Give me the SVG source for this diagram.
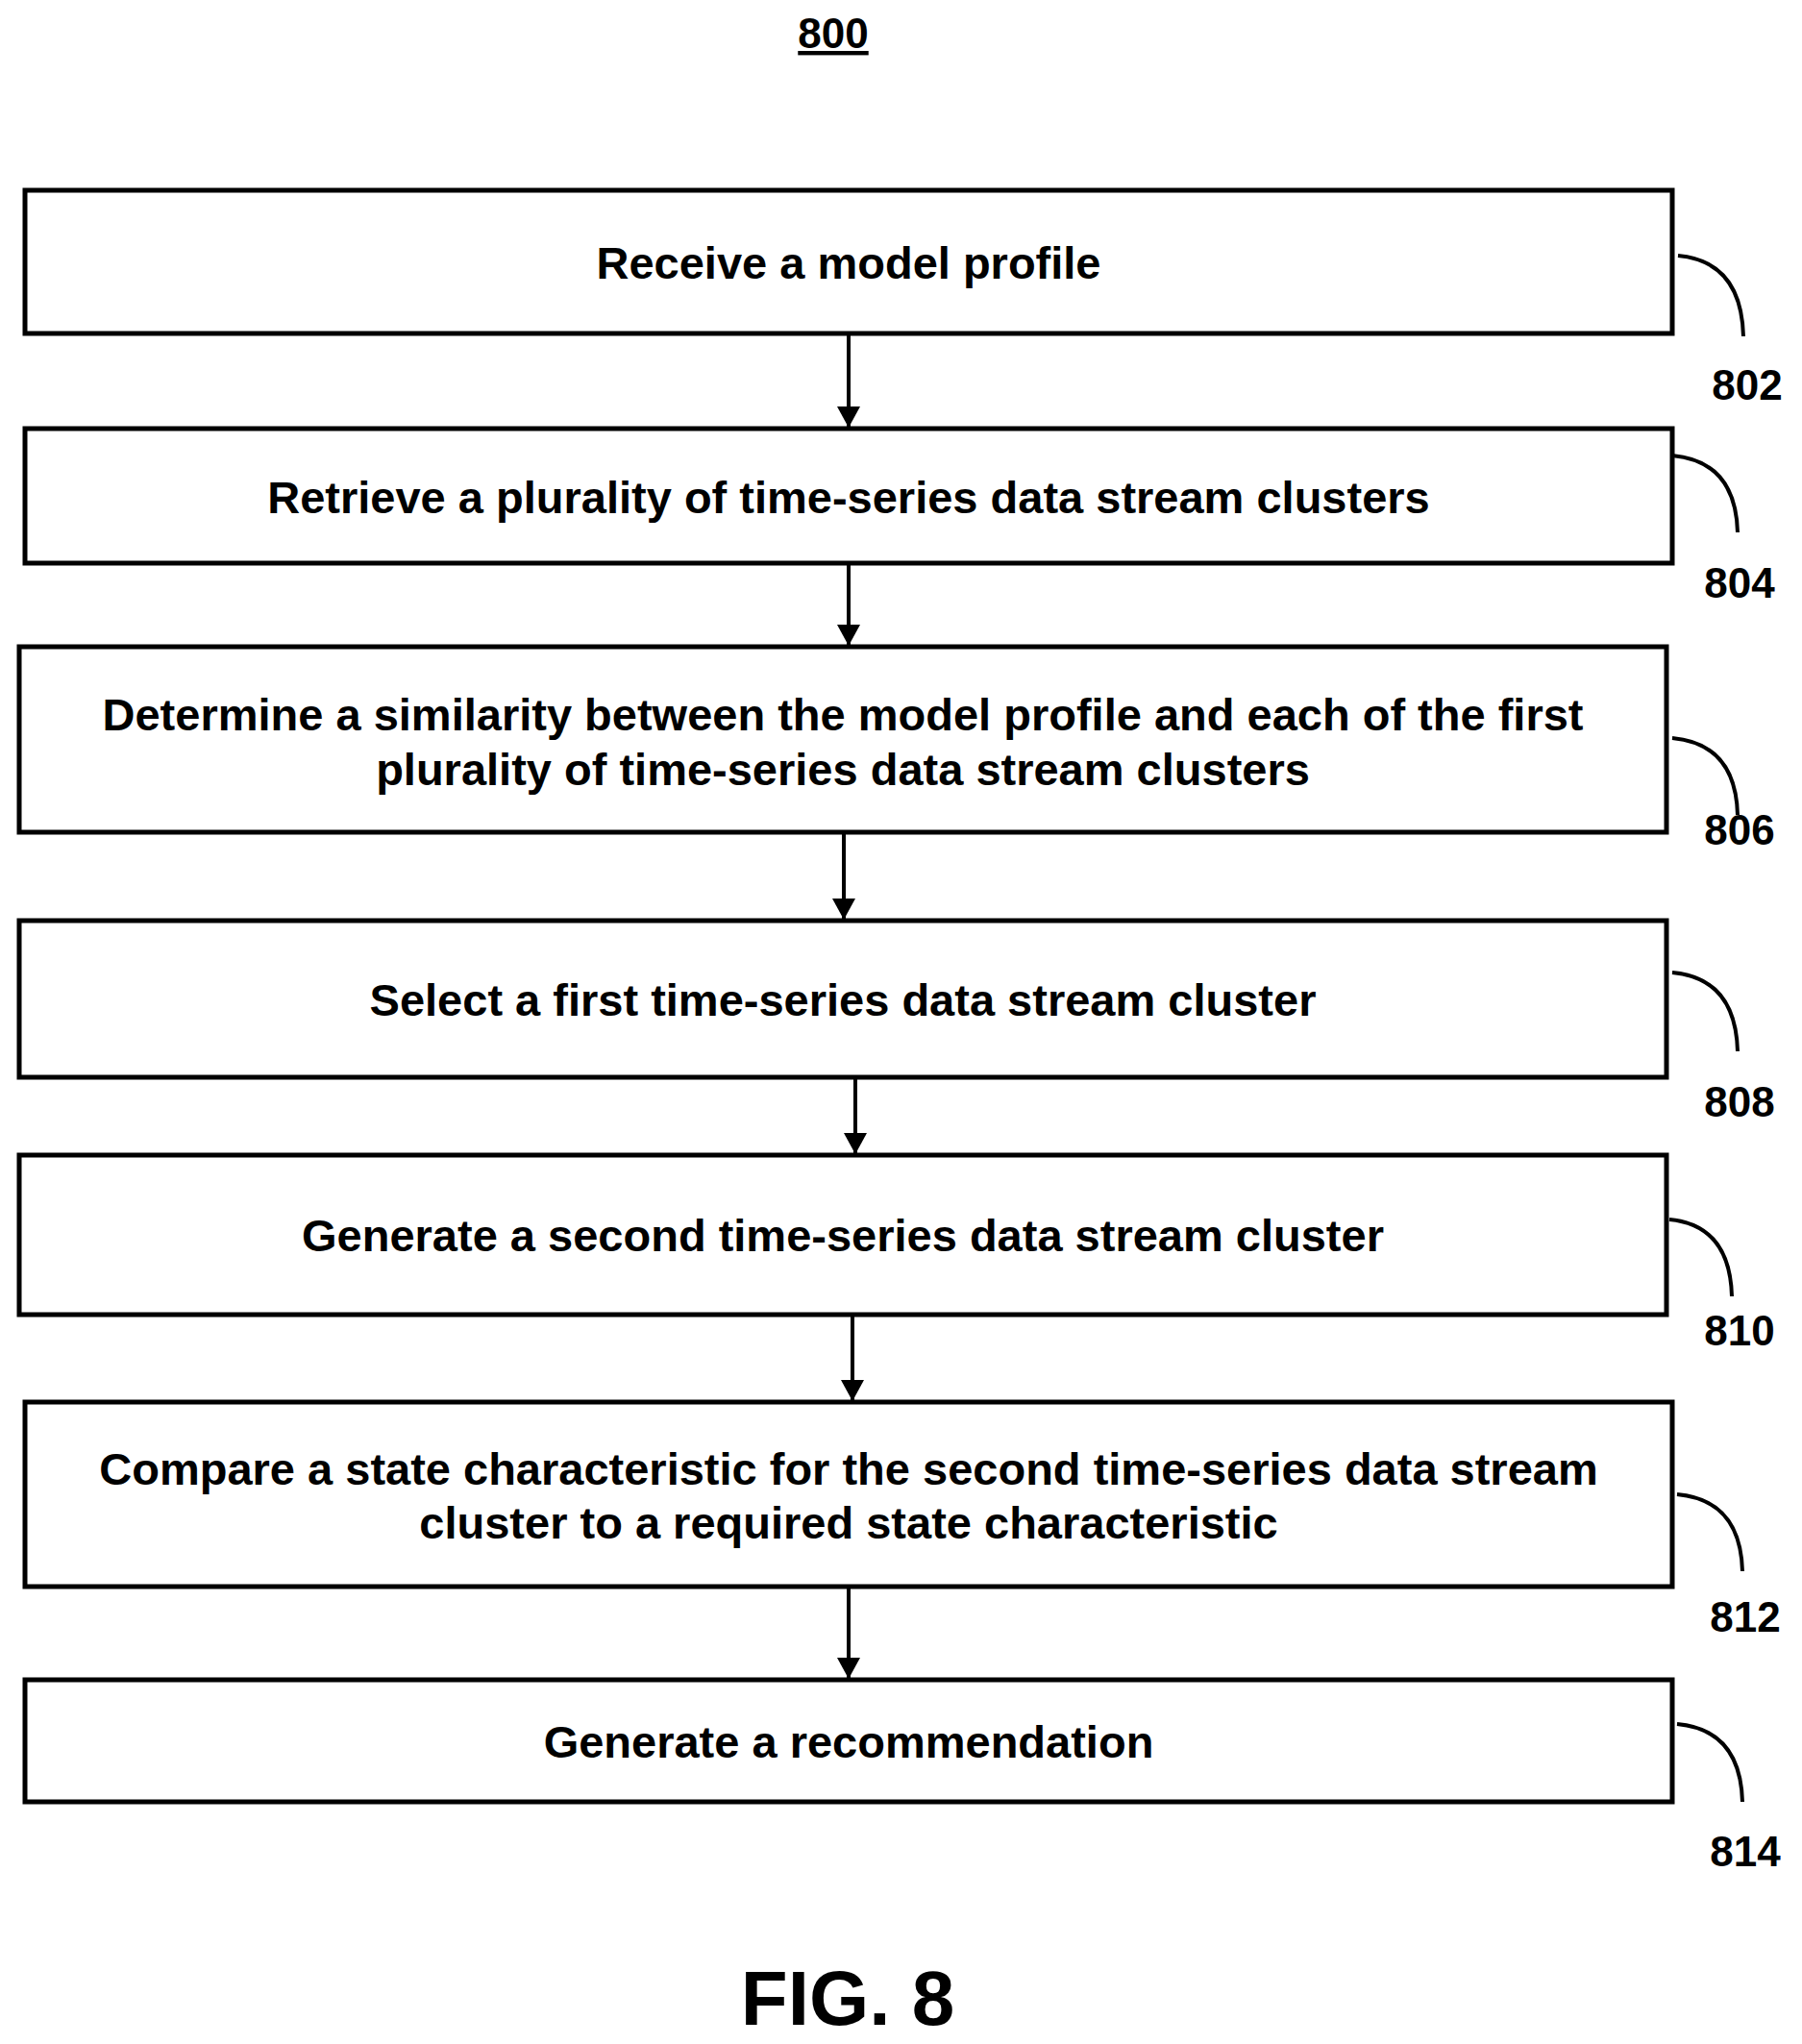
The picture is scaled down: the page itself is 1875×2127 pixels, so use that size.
<svg xmlns="http://www.w3.org/2000/svg" width="1875" height="2127" viewBox="0 0 1875 2127">
<defs>
<marker id="ah" markerWidth="22" markerHeight="24" refX="22" refY="12" orient="auto" markerUnits="userSpaceOnUse"><path d="M0,0 L22,12 L0,24 Z" fill="#000"/></marker>
<style>
rect{fill:#fff;stroke:#000;stroke-width:5}
text{font-family:"Liberation Sans",Arial,sans-serif;font-weight:bold;fill:#000}
.t{font-size:47px;text-anchor:middle}
.n{font-size:44px;text-anchor:middle}
.c{fill:none;stroke:#000;stroke-width:4}
.a{stroke:#000;stroke-width:4;fill:none;marker-end:url(#ah)}
</style>
</defs>
<text class="n" x="867" y="50" text-decoration="underline">800</text>
<g id="connectors">
<line class="a" x1="883" y1="348" x2="883" y2="445"/>
<line class="a" x1="883" y1="587" x2="883" y2="672"/>
<line class="a" x1="878" y1="867" x2="878" y2="957"/>
<line class="a" x1="890" y1="1122" x2="890" y2="1201"/>
<line class="a" x1="887" y1="1369" x2="887" y2="1458"/>
<line class="a" x1="883" y1="1652" x2="883" y2="1747"/>
</g>
<g id="n802"><rect x="26" y="198" width="1714" height="149"/><text class="t" x="883" y="290">Receive a model profile</text><path class="c" d="M1746,266 Q1812,272 1814,350"/><text class="n" x="1818" y="416">802</text></g>
<g id="n804"><rect x="26" y="446" width="1714" height="140"/><text class="t" x="883" y="534">Retrieve a plurality of time-series data stream clusters</text><path class="c" d="M1740,474 Q1806,480 1808,554"/><text class="n" x="1810" y="622">804</text></g>
<g id="n806"><rect x="20" y="673" width="1714" height="193"/><text class="t" x="877" y="760">Determine a similarity between the model profile and each of the first</text><text class="t" x="877" y="817">plurality of time-series data stream clusters</text><path class="c" d="M1740,768 Q1806,774 1808,848"/><text class="n" x="1810" y="879">806</text></g>
<g id="n808"><rect x="20" y="958" width="1714" height="163"/><text class="t" x="877" y="1057">Select a first time-series data stream cluster</text><path class="c" d="M1740,1012 Q1806,1018 1808,1094"/><text class="n" x="1810" y="1162">808</text></g>
<g id="n810"><rect x="20" y="1202" width="1714" height="166"/><text class="t" x="877" y="1302">Generate a second time-series data stream cluster</text><path class="c" d="M1737,1269 Q1800,1275 1802,1349"/><text class="n" x="1810" y="1400">810</text></g>
<g id="n812"><rect x="26" y="1459" width="1714" height="192"/><text class="t" x="883" y="1545">Compare a state characteristic for the second time-series data stream</text><text class="t" x="883" y="1601">cluster to a required state characteristic</text><path class="c" d="M1745,1555 Q1811,1561 1813,1635"/><text class="n" x="1816" y="1698">812</text></g>
<g id="n814"><rect x="26" y="1748" width="1714" height="127"/><text class="t" x="883" y="1829">Generate a recommendation</text><path class="c" d="M1745,1794 Q1811,1800 1813,1875"/><text class="n" x="1816" y="1942">814</text></g>
<text x="882" y="2107" font-size="80" text-anchor="middle">FIG. 8</text>
</svg>
